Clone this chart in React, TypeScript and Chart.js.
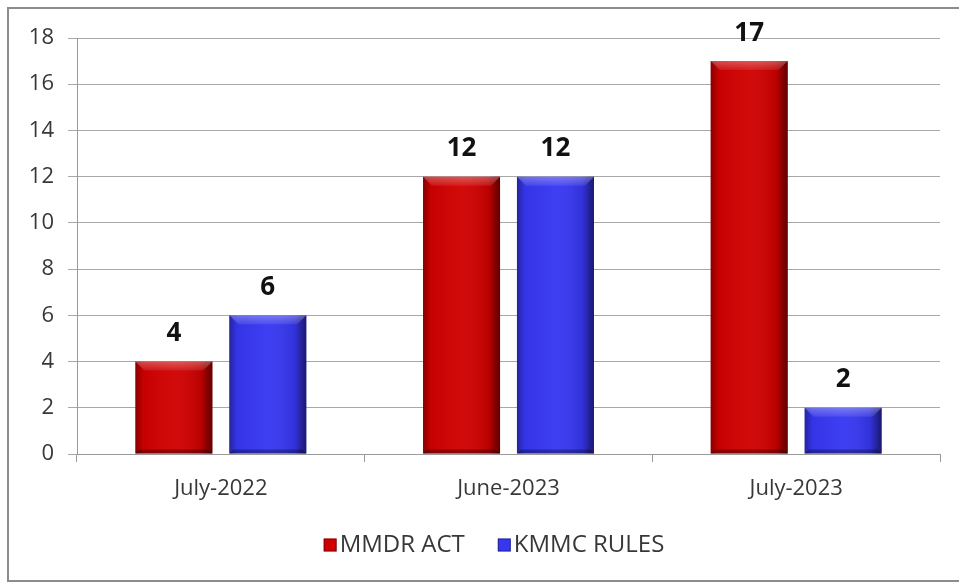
import React, { useEffect, useRef } from "react";
import { Chart, registerables } from "chart.js";

Chart.register(...registerables);

const categories = ["July-2022", "June-2023", "July-2023"];
const mmdrAct = [4, 12, 17];
const kmmcRules = [6, 12, 2];
const seriesNames = ["MMDR ACT", "KMMC RULES"];
const seriesColors = ["#D00000", "#3737F2"];
const yTicksMax = 18;
const yStep = 2;

const FONT = "'Open Sans', 'DejaVu Sans', sans-serif";

const bevelPlugin = {
  id: "bevel",
  afterDatasetsDraw(chart: any) {
    const ctx = chart.ctx;
    chart.data.datasets.forEach((ds: any, di: number) => {
      const meta = chart.getDatasetMeta(di);
      meta.data.forEach((bar: any) => {
        const left = bar.x - bar.width / 2;
        const right = bar.x + bar.width / 2;
        const top = Math.min(bar.y, bar.base);
        const bottom = Math.max(bar.y, bar.base);
        const w = right - left;
        ctx.save();
        const g = ctx.createLinearGradient(left, 0, right, 0);
        g.addColorStop(0, "rgba(0,0,0,0.35)");
        g.addColorStop(0.1, "rgba(0,0,0,0.05)");
        g.addColorStop(0.5, "rgba(255,255,255,0.04)");
        g.addColorStop(0.85, "rgba(0,0,0,0.1)");
        g.addColorStop(1, "rgba(0,0,0,0.55)");
        ctx.fillStyle = g;
        ctx.fillRect(left, top, w, bottom - top);
        const bev = Math.min(9, (bottom - top) / 3);
        const gv = ctx.createLinearGradient(0, top, 0, top + bev);
        gv.addColorStop(0, "rgba(255,255,255,0.3)");
        gv.addColorStop(1, "rgba(255,255,255,0.08)");
        ctx.beginPath();
        ctx.moveTo(left, top);
        ctx.lineTo(right, top);
        ctx.lineTo(right - bev, top + bev);
        ctx.lineTo(left + bev, top + bev);
        ctx.closePath();
        ctx.fillStyle = gv;
        ctx.fill();
        ctx.beginPath();
        ctx.moveTo(left, bottom);
        ctx.lineTo(right, bottom);
        ctx.lineTo(right - 4, bottom - 4);
        ctx.lineTo(left + 4, bottom - 4);
        ctx.closePath();
        ctx.fillStyle = "rgba(0,0,0,0.3)";
        ctx.fill();
        ctx.restore();
      });
    });
  },
};

const dataLabelPlugin = {
  id: "dataLabels",
  afterDatasetsDraw(chart: any) {
    const ctx = chart.ctx;
    ctx.save();
    ctx.font = `bold 26px ${FONT}`;
    ctx.fillStyle = "#111111";
    ctx.textAlign = "center";
    ctx.textBaseline = "middle";
    chart.data.datasets.forEach((ds: any, di: number) => {
      const meta = chart.getDatasetMeta(di);
      meta.data.forEach((bar: any, i: number) => {
        ctx.fillText(String(ds.data[i]), bar.x, bar.y - 28);
      });
    });
    ctx.restore();
  },
};

const legendPlugin = {
  id: "customLegend",
  afterDraw(chart: any) {
    const ctx = chart.ctx;
    ctx.save();
    ctx.font = `24px ${FONT}`;
    ctx.textBaseline = "middle";
    const box = 13;
    const gapBoxText = 3;
    const gapItems = 33;
    const items = chart.data.datasets.map((ds: any) => ({
      label: ds.label,
      color: ds.backgroundColor,
      w: ctx.measureText(ds.label).width,
    }));
    let total = 0;
    items.forEach((it: any, i: number) => {
      total += box + gapBoxText + it.w + (i < items.length - 1 ? gapItems : 0);
    });
    const cx = 494;
    const cy = 545;
    let x = cx - total / 2;
    items.forEach((it: any) => {
      ctx.fillStyle = it.color;
      ctx.fillRect(x, cy - box / 2, box, box);
      ctx.strokeStyle = "rgba(0,0,0,0.4)";
      ctx.lineWidth = 1;
      ctx.strokeRect(x + 0.5, cy - box / 2 + 0.5, box - 1, box - 1);
      x += box + gapBoxText;
      ctx.fillStyle = "#383838";
      ctx.fillText(it.label, x, cy);
      x += it.w + gapItems;
    });
    ctx.restore();
  },
};

function App() {
  const ref = useRef<HTMLCanvasElement | null>(null);
  useEffect(() => {
    if (!ref.current) return;
    const chart = new Chart(ref.current, {
      type: "bar",
      data: {
        labels: categories,
        datasets: [
          { label: seriesNames[0], data: mmdrAct, backgroundColor: seriesColors[0] },
          { label: seriesNames[1], data: kmmcRules, backgroundColor: seriesColors[1] },
        ],
      },
      options: {
        responsive: false,
        animation: false,
        devicePixelRatio: 1,
        layout: { padding: { top: 38, right: 19, left: 0, bottom: 0 } },
        datasets: {
          bar: { categoryPercentage: 0.653, barPercentage: 0.82 },
        },
        plugins: {
          legend: { display: false },
          tooltip: { enabled: false },
        },
        scales: {
          x: {
            afterFit(scale: any) {
              scale.height = 130;
            },
            grid: {
              offset: true,
              drawOnChartArea: false,
              drawTicks: true,
              tickLength: 8,
              color: "#9a9a9a",
            },
            border: { color: "#9a9a9a", width: 1 },
            ticks: {
              color: "#383838",
              font: { family: FONT, size: 22 },
              padding: 14,
            },
          },
          y: {
            min: 0,
            max: yTicksMax,
            afterFit(scale: any) {
              scale.width = 77;
            },
            ticks: {
              stepSize: yStep,
              color: "#383838",
              font: { family: FONT, size: 22 },
              padding: 14,
            },
            grid: {
              color: "#a8a8a8",
              tickLength: 9,
              lineWidth: 1,
            },
            border: { color: "#9a9a9a", width: 1 },
          },
        },
      },
      plugins: [bevelPlugin, dataLabelPlugin, legendPlugin],
    });
    return () => chart.destroy();
  }, []);

  return (
    <div style={{ position: "fixed", left: 0, top: 0, width: 959, height: 584, background: "#ffffff", overflow: "hidden" }}>
      <div
        style={{
          position: "absolute",
          left: 7,
          top: 7,
          width: 970,
          height: 575,
          border: "2px solid #8c8c8c",
          boxSizing: "border-box",
        }}
      />
      <canvas ref={ref} width={959} height={584} style={{ position: "absolute", left: 0, top: 0 }} />
    </div>
  );
}

export default App;
